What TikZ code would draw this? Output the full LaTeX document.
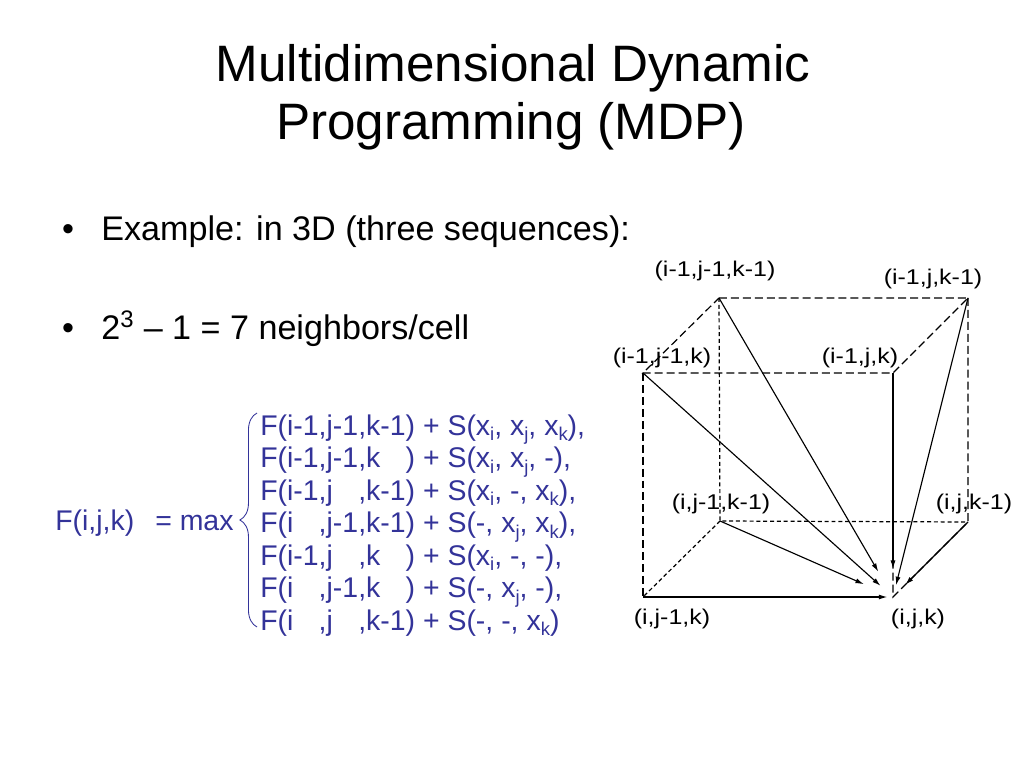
\documentclass[tikz,border=0pt]{standalone}
\usepackage{fontspec}
\setmainfont{Liberation Sans}
\newfontfamily\cubefont{Liberation Sans}[FakeStretch=1.17]
\usepackage{tikz}
\usetikzlibrary{arrows.meta,decorations.pathreplacing}
\definecolor{mdpblue}{RGB}{51,51,153}
\newcommand{\idx}[2]{\makebox[0pt][l]{#1#2}\phantom{#1-1}}
\newcommand{\lowsub}[1]{\raisebox{-4pt}{\fontsize{13}{13}\selectfont #1}}

\begin{document}
\begin{tikzpicture}[x=0.703125pt,y=-0.703125pt,
    >={Latex[length=6pt,width=3.5pt]},
    cubeedge/.style={dash pattern=on 5.6pt off 2.8pt, line width=0.85pt},
    hiddenedge/.style={dash pattern=on 2.8pt off 2pt, line width=0.85pt},
    vlabel/.style={font=\cubefont\fontsize{15}{18}\selectfont},
    row/.style={anchor=base west, inner sep=0pt, text=mdpblue, font=\fontsize{20}{24}\selectfont}]
			\useasboundingbox (0,0) rectangle (1024,768);
			\node[anchor=base, font=\fontsize{36}{43}\selectfont] (title1) at (513,82) {Multidimensional Dynamic};
			\node[anchor=base, font=\fontsize{36}{43}\selectfont] (title2) at (511,140) {Programming (MDP)};
			\node[anchor=base, font=\fontsize{24}{29}\selectfont] (dot1) at (68,241) {\textbullet};
			\node[anchor=base west, inner sep=0pt, font=\fontsize{24}{29}\selectfont] (item1) at (101,241) {Example: in 3D (three sequences):};
			\node[anchor=base, font=\fontsize{24}{29}\selectfont] (dot2) at (68,340) {\textbullet};
			\node[anchor=base west, inner sep=0pt, font=\fontsize{24}{29}\selectfont] (item2) at (101,340) {2\textsuperscript{3} – 1 = 7 neighbors/cell};
			% recurrence
			\node[row] (lhs) at (55,530) {F(i,j,k)};
			\node[row] (maxop) at (155,530) {= max};
			\node[row] (r1) at (260,435) {F(\idx{i}{-1},\idx{j}{-1},\idx{k}{-1}) + S(x\lowsub{i}, x\lowsub{j}, x\lowsub{k}),};
			\node[row] (r2) at (260,467.5) {F(\idx{i}{-1},\idx{j}{-1},\idx{k}{}) + S(x\lowsub{i}, x\lowsub{j}, -),};
			\node[row] (r3) at (260,500) {F(\idx{i}{-1},\idx{j}{},\idx{k}{-1}) + S(x\lowsub{i}, -, x\lowsub{k}),};
			\node[row] (r4) at (260,532.5) {F(\idx{i}{},\idx{j}{-1},\idx{k}{-1}) + S(-, x\lowsub{j}, x\lowsub{k}),};
			\node[row] (r5) at (260,565) {F(\idx{i}{-1},\idx{j}{},\idx{k}{}) + S(x\lowsub{i}, -, -),};
			\node[row] (r6) at (260,597.5) {F(\idx{i}{},\idx{j}{-1},\idx{k}{}) + S(-, x\lowsub{j}, -),};
			\node[row] (r7) at (260,630) {F(\idx{i}{},\idx{j}{},\idx{k}{-1}) + S(-, -, x\lowsub{k})};
			\coordinate (btop) at (257,413);
			\coordinate (bbot) at (257,627);
			\draw[mdpblue, line width=0.6pt, decorate, decoration={brace, amplitude=12pt}] (bbot) -- (btop);
			% cube
			\coordinate (v111) at (719,298);
			\coordinate (v101) at (968,298);
			\coordinate (v110) at (643,373);
			\coordinate (v100) at (893,373);
			\coordinate (v011) at (720,521);
			\coordinate (v001) at (968,522);
			\coordinate (v010) at (643,597);
			\coordinate (v000) at (893,597);
			\draw[cubeedge] (v111) -- (v101) -- (v100) -- (v110) -- cycle;
			\draw[cubeedge] (v110) -- (v010);
			\draw[cubeedge] (v101) -- (v001) -- (v000) -- (v100);
			\draw[hiddenedge] (v111) -- (v011) -- (v001);
			\draw[hiddenedge] (v011) -- (v010);
			\foreach \v/\s in {v111/20.5pt, v101/8.5pt, v110/11.7pt, v100/19.7pt, v011/22.3pt, v001/12.1pt, v010/4pt}
				\draw[->, line width=0.8pt, shorten >=\s] (\v) -- (v000);
			\node[vlabel] (l111) at (715,271) {(i-1,j-1,k-1)};
			\node[vlabel] (l101) at (933,279) {(i-1,j,k-1)};
			\node[vlabel] (l110) at (662,358) {(i-1,j-1,k)};
			\node[vlabel] (l100) at (860,358) {(i-1,j,k)};
			\node[vlabel] (l011) at (721,504) {(i,j-1,k-1)};
			\node[vlabel] (l001) at (974,504) {(i,j,k-1)};
			\node[vlabel] (l010) at (672,619) {(i,j-1,k)};
			\node[vlabel] (l000) at (918,619) {(i,j,k)};
		\end{tikzpicture}
\end{document}
